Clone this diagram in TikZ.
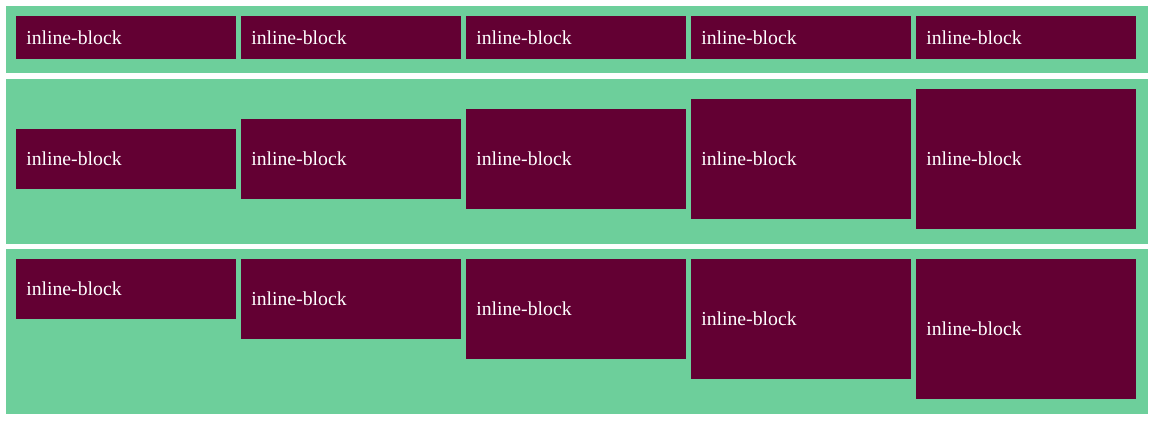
\documentclass[tikz,border=0pt]{standalone}
\usepackage{fontspec}
\setmainfont{Liberation Serif}
\definecolor{bandgreen}{RGB}{109,207,155}
\definecolor{boxmaroon}{RGB}{99,0,51}
\begin{document}
\begin{tikzpicture}[x=0.75pt,y=-0.75pt,
  band/.style={fill=bandgreen, draw=none, inner sep=0pt, minimum width=856.5pt},
  ibox/.style={fill=boxmaroon, draw=none, inner sep=0pt, minimum width=165pt},
  lbl/.style={text=white, inner sep=0pt, anchor=base west, font=\fontsize{14.8pt}{18pt}\selectfont}]
\useasboundingbox (0,0) rectangle (1154,423);
\fill[white] (0,0) rectangle (1154,423);
% bands
\node[band, minimum height=50.25pt] (band1) at (577,39.5) {};
\node[band, minimum height=123.75pt] (band2) at (577,161.25) {};
\node[band, minimum height=123.75pt] (band3) at (577,331.25) {};
% row 1
\foreach \i/\x in {1/126,2/351,3/576,4/801,5/1026}{
  \node[ibox, minimum height=32.25pt] (ra\i) at (\x,37.5) {};
  \node[lbl] (ta\i) at ([xshift=7.7pt,yshift=-4.9pt]ra\i.west) {inline-block};
}
% row 2
\foreach \i/\x/\h in {1/126/60,2/351/80,3/576/100,4/801/120,5/1026/140}{
  \node[ibox, minimum height=0.75pt*\h] (rb\i) at (\x,159) {};
  \node[lbl] (tb\i) at ([xshift=7.7pt,yshift=-4.9pt]rb\i.west) {inline-block};
}
% row 3
\foreach \i/\x/\h in {1/126/60,2/351/80,3/576/100,4/801/120,5/1026/140}{
  \node[ibox, minimum height=0.75pt*\h, anchor=north] (rc\i) at (\x,259) {};
  \node[lbl] (tc\i) at ([xshift=7.7pt,yshift=-4.9pt]rc\i.west) {inline-block};
}
\end{tikzpicture}
\end{document}
